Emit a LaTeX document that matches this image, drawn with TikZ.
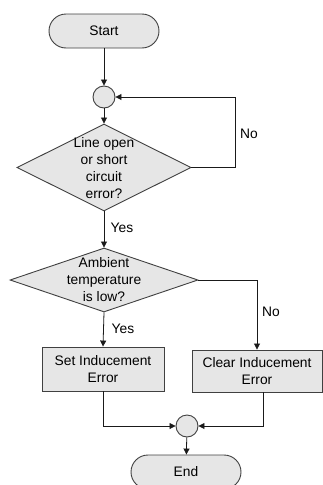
\documentclass[tikz,border=0pt]{standalone}
\usepackage{fontspec}
\setmainfont{Liberation Sans}
\usetikzlibrary{shapes.geometric,arrows.meta}
\definecolor{shapefill}{HTML}{E6E6E6}
\definecolor{shapeline}{HTML}{404040}
\definecolor{conn}{HTML}{1A1A1A}
\tikzset{
  every node/.style={font=\fontsize{13.8}{17}\selectfont},
  terminal/.style={draw=shapeline, fill=shapefill, rounded corners=17pt, minimum width=110pt, minimum height=34pt, inner sep=0pt, line width=0.9pt},
  junction/.style={draw=shapeline, fill=shapefill, circle, minimum size=22pt, inner sep=0pt, line width=0.9pt},
  decision/.style={draw=shapeline, fill=shapefill, diamond, inner sep=0pt, line width=0.9pt},
  process/.style={draw=shapeline, fill=shapefill, minimum height=44pt, inner sep=0pt, line width=0.9pt, align=center},
  label/.style={align=center, inner sep=0pt},
  conn/.style={draw=conn, line width=0.8pt},
  arr/.style={conn, -{Triangle[length=6pt,width=6pt]}}
}
\begin{document}
\begin{tikzpicture}[x=1pt,y=-1pt]
\useasboundingbox (0,0) rectangle (322,485);
\node[terminal] (start) at (104,31) {Start};
\node[junction] (c1) at (104,97) {};
\node[decision, minimum width=174pt, minimum height=87pt] (d1) at (104,167.5) {};
\node[label] (t1) at (104,168) {Line open\\or short\\circuit\\error?};
\node[decision, minimum width=188pt, minimum height=64pt] (d2) at (104,280) {};
\node[label] (t2) at (104,280) {Ambient\\temperature\\is low?};
\node[process, minimum width=122pt] (b1) at (103,369) {Set Inducement\\Error};
\node[process, minimum width=130pt, minimum height=42pt] (b2) at (257,371) {Clear Inducement\\Error};
\node[junction] (c2) at (187,426) {};
\node[terminal] (end) at (186,472) {End};
\coordinate (lp) at (235,97);
\coordinate (b2o) at (263,392);

\draw[arr] (start) -- (c1);
\draw[arr] (c1) -- (d1.north);
\draw[arr] (d1.east) -| (lp) -- (c1.east);
\node[label] (no1) at (249,134) {No};
\draw[arr] (d1.south) -- (d2.north);
\node[label] (yes1) at (122,228) {Yes};
\draw[arr] (d2.south) -- (b1.north);
\node[label] (yes2) at (123,329) {Yes};
\draw[arr] (d2.east) -| (b2.north);
\node[label] (no2) at (271,312) {No};
\draw[arr] (b1.south) |- (c2.west);
\draw[arr] (b2o) |- (c2.east);
\draw[arr] (c2) -- (end);
\end{tikzpicture}
\end{document}
